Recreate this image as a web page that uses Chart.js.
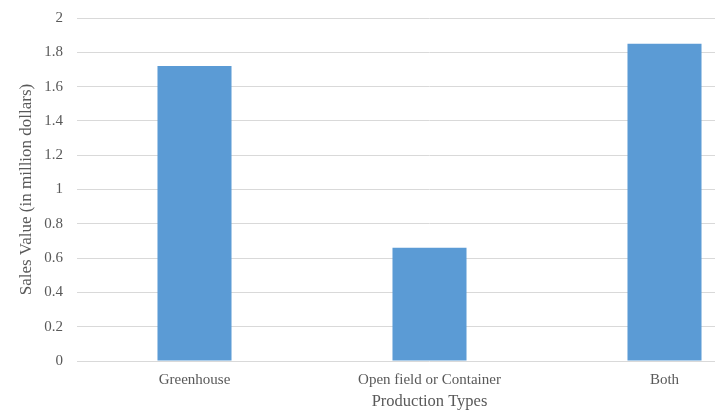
<!DOCTYPE html>
<html>
<head>
<meta charset="utf-8">
<script src="https://cdn.jsdelivr.net/npm/chart.js@4/dist/chart.umd.min.js"></script>
<style>
  html, body { margin: 0; padding: 0; background: #ffffff; overflow: hidden; }
  #wrap { width: 782px; height: 413px; }
</style>
</head>
<body>
<div id="wrap"><canvas id="chart" width="782" height="413"></canvas></div>
<script>
// Sales value by production type (million dollars)
const categories = ["Greenhouse", "Open field or Container", "Both"];
const salesValues = [1.72, 0.66, 1.85];
const yTicks = [0, 0.2, 0.4, 0.6, 0.8, 1, 1.2, 1.4, 1.6, 1.8, 2];
const yTickLabels = ["0", "0.2", "0.4", "0.6", "0.8", "1", "1.2", "1.4", "1.6", "1.8", "2"];

const textColor = "#595959";
const serif = "'Liberation Serif', 'Times New Roman', serif";

new Chart(document.getElementById("chart"), {
  type: "bar",
  data: {
    labels: categories,
    datasets: [{
      data: salesValues,
      backgroundColor: "#5b9bd5",
      borderWidth: 0,
      barPercentage: 0.315,
      categoryPercentage: 1
    }]
  },
  options: {
    responsive: false,
    animation: false,
    layout: { padding: { top: 18, right: 0, bottom: 0, left: 0 } },
    plugins: { legend: { display: false }, tooltip: { enabled: false } },
    scales: {
      x: {
        grid: { display: false, drawTicks: false },
        border: { display: false },
        ticks: { color: textColor, font: { family: serif, size: 15 }, padding: 10, maxRotation: 0 },
        title: {
          display: true,
          text: "Production Types",
          color: textColor,
          font: { family: serif, size: 16.5 },
          padding: { top: 0, bottom: 1 }
        },
        afterFit: (s) => { s.height = 52; s.paddingLeft = 0; s.paddingRight = 0; }
      },
      y: {
        min: 0,
        max: 2,
        afterBuildTicks: (s) => { s.ticks = yTicks.map(v => ({ value: v })); },
        grid: { color: "#d9d9d9", lineWidth: 1, drawTicks: false },
        border: { display: false },
        ticks: {
          color: textColor,
          font: { family: serif, size: 15 },
          padding: 14,
          callback: (value, index) => yTickLabels[index]
        },
        title: {
          display: true,
          text: "Sales Value (in million dollars)",
          color: textColor,
          font: { family: serif, size: 17 },
          padding: { top: 16, bottom: 0 }
        },
        afterFit: (s) => { s.width = 77; s.paddingTop = 0; s.paddingBottom = 0; }
      }
    }
  }
});
</script>
</body>
</html>
